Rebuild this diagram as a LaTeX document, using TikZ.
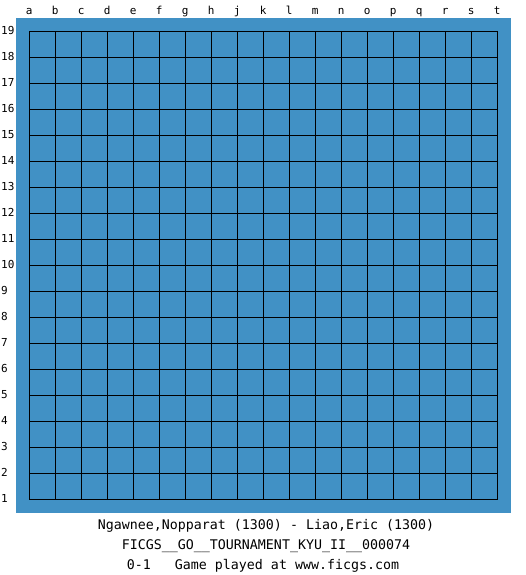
\documentclass[tikz,border=0pt]{standalone}
\usepackage{fontspec}
\setmonofont{DejaVu Sans Mono}
\usepackage{xcolor}
\definecolor{tabuleiro}{RGB}{65,145,197}
\usetikzlibrary{positioning}

\begin{document}
\begin{tikzpicture}[x=1pt,y=-1pt,
            rotulo/.style={font=\ttfamily\fontsize{11}{13}\selectfont,inner sep=0pt},
            legenda/.style={font=\ttfamily\fontsize{13.3}{16}\selectfont,inner sep=0pt,anchor=base},
            linha/.style={draw=black,line width=1pt,line cap=rect}
            ]
            \useasboundingbox (0,0) rectangle (525,575);
            \fill[tabuleiro] (16,18) rectangle (511,513);

            % grelha 19x19
            \foreach \i in {0,...,18} {
              \draw[linha] (29.3+26*\i,31.3) -- (29.3+26*\i,499.3);
              \draw[linha] (29.3,31.3+26*\i) -- (497.3,31.3+26*\i);
            }

            % letras e numeros
            \foreach \l [count=\i from 0] in {a,b,c,d,e,f,g,h,j,k,l,m,n,o,p,q,r,s,t}
              \node[rotulo,anchor=base] (col-\l) at (29.3+26*\i,15) {\l};
            \foreach \n in {1,...,19}
              \node[rotulo,anchor=base west] (lin-\n) at (1,34.3+26*19-26*\n) {\n};

            \node[legenda] (jogadores) at (266,529) {Ngawnee,Nopparat (1300) - Liao,Eric (1300)};
            \node[legenda] (torneio)   at (266,549) {FICGS\_\_GO\_\_TOURNAMENT\_KYU\_II\_\_000074};
            \node[legenda] (resultado) at (263,569) {0-1\ \ \ Game played at www.ficgs.com};
          \end{tikzpicture}
\end{document}
